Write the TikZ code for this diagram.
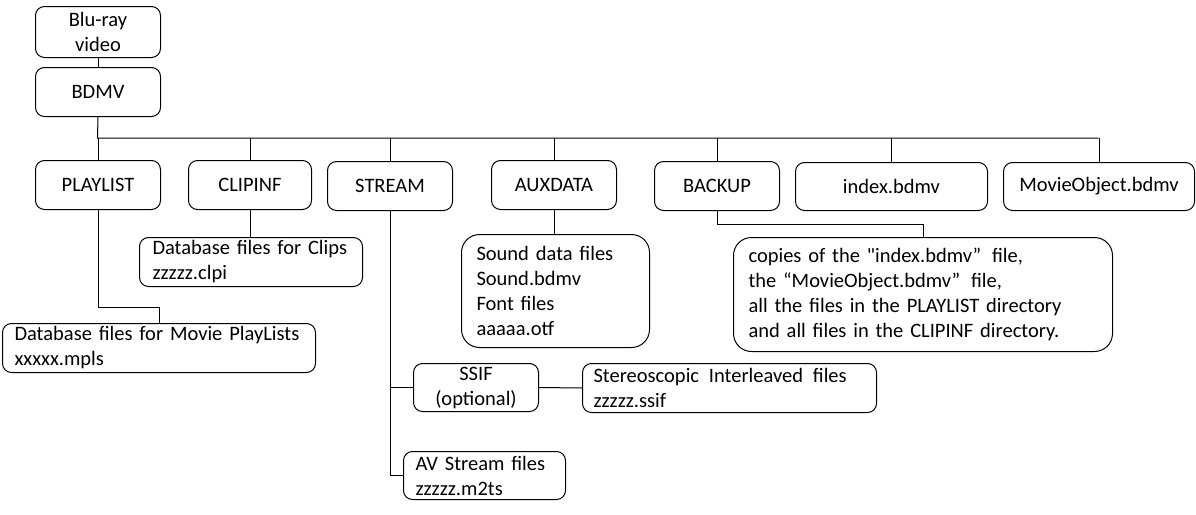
\documentclass[tikz,border=0pt]{standalone}
\usepackage{fontspec}
\setmainfont{Carlito}
\newfontfamily\rawq{Carlito}[Ligatures=ResetAll]
\newcommand\fs{\fontsize{20.5pt}{25pt}\selectfont}
\begin{document}
\begin{tikzpicture}[x=1pt,y=-1pt, line width=1pt,
  lbl/.style={draw, rounded corners=9pt, align=center, inner sep=0pt, font=\fs, anchor=north west},
  desc/.style={draw, rounded corners=9pt, align=left, inner ysep=0pt, font=\fs, anchor=north west},
  bigdesc/.style={desc, rounded corners=18pt},
  conn/.style={draw, line width=1pt}]
\useasboundingbox[fill=white] (0,0) rectangle (1196,514);

% top
\node[lbl, minimum width=125pt, minimum height=51pt] (bluray) at (35,6) {Blu-ray\\video};
\node[lbl, minimum width=125pt, minimum height=49pt] (bdmv) at (35,67) {BDMV};

% level 2
\node[lbl, minimum width=125pt, minimum height=49pt] (playlist) at (35,160) {PLAYLIST};
\node[lbl, minimum width=123pt, minimum height=49pt] (clipinf) at (188,160) {CLIPINF};
\node[lbl, minimum width=125pt, minimum height=49pt] (stream) at (327,161) {STREAM};
\node[lbl, minimum width=125pt, minimum height=49pt] (auxdata) at (491,160) {AUXDATA};
\node[lbl, minimum width=125pt, minimum height=49pt] (backup) at (654,161) {BACKUP};
\node[lbl, minimum width=192pt, minimum height=48pt] (index) at (795,162) {index.bdmv};
\node[lbl, minimum width=191pt, minimum height=48pt] (movie) at (1003,162) {MovieObject.bdmv};

% descriptions
\node[desc, text width=197pt, inner xsep=13pt, minimum height=49pt] (clips) at (139,237)
  {Database files for Clips\\zzzzz.clpi};
\node[desc, text width=289pt, inner xsep=12pt, minimum height=49pt] (plfiles) at (2,323)
  {Database files for Movie PlayLists\\xxxxx.mpls};
\node[bigdesc, text width=158pt, inner xsep=15pt, minimum height=113pt] (auxdesc) at (461,234)
  {Sound data files\\Sound.bdmv\\Font files\\aaaaa.otf};
\node[bigdesc, text width=349pt, inner xsep=15pt, minimum height=114pt] (backdesc) at (733,237)
  {copies of the {\rawq"}index.bdmv”\hspace{4pt} file,\\the “MovieObject.bdmv”\hspace{4pt} file,\\all the files in the PLAYLIST directory\\and all files in the CLIPINF directory.};
\node[lbl, minimum width=125pt, minimum height=48pt] (ssif) at (413,363) {SSIF\\(optional)};
\node[desc, text width=272pt, inner xsep=11pt, minimum height=49pt] (stereo) at (582,363)
  {Stereoscopic\hspace{3pt} Interleaved\hspace{3pt} files\\zzzzz.ssif};
\node[desc, text width=138pt, inner xsep=12pt, minimum height=48pt] (av) at (403,451)
  {AV Stream files\\zzzzz.m2ts};

% connectors
\coordinate (busL) at (97.5,138);
\coordinate (busR) at (1098.5,138);
\draw[conn] (bluray) -- (bdmv);
\draw[conn] (bdmv.south) -- (busL) -- (busR);
\foreach \n in {playlist,clipinf,stream,auxdata,backup,index,movie}
  \draw[conn] (\n.north) -- (\n.north |- busL);

\coordinate (plj) at (0,307);
\draw[conn] (playlist.south) -- (playlist.south |- plj) -| (plfiles.north);
\draw[conn] (clipinf.south) -- (clipinf.south |- clips.north);
\draw[conn] (auxdata.south) -- (auxdata.south |- auxdesc.north);
\coordinate (bkj) at (0,224);
\draw[conn] (backup.south) -- (backup.south |- bkj) -| (backdesc.north);

\coordinate (stj) at (stream.south |- av.west);
\draw[conn] (stream.south) -- (stj) -- (av.west);
\draw[conn] (stream.south |- ssif.west) -- (ssif.west);
\draw[conn] (ssif.east) -- (stereo.west);
\end{tikzpicture}
\end{document}
